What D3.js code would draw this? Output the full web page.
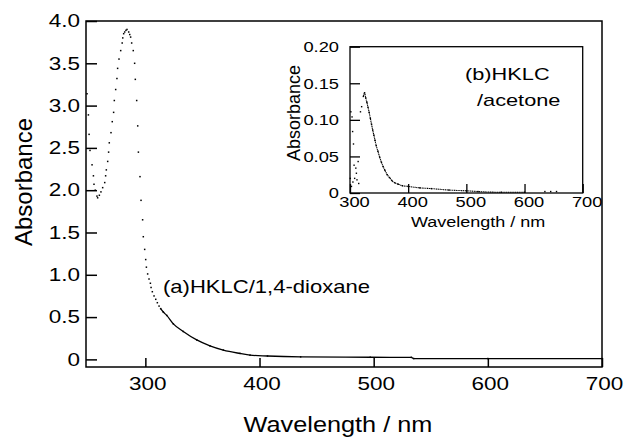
<!DOCTYPE html>
<html>
<head>
<meta charset="utf-8">
<script src="https://cdn.jsdelivr.net/npm/d3@7/dist/d3.min.js"></script>
<style>
body { margin: 0; background: #fff; }
text { font-family: "Liberation Sans", Arial, sans-serif; fill: #000; }
</style>
</head>
<body>
<svg id="chart" width="626" height="437"></svg>
<script>
// (a) HKLC / 1,4-dioxane, main panel
const wavelengthA = [248.9, 250.1, 250.7, 251.5, 253.3, 254.5, 255.0, 256.1, 257.6, 258.2,
    259.7, 261.1, 262.6, 264.4, 265.2, 265.8, 267.0, 267.8, 268.4, 269.9,
    271.0, 272.2, 272.8, 274.0, 275.1, 275.7, 276.9, 278.4, 279.7, 280.2,
    281.0, 281.9, 283.0, 283.9, 285.4, 286.3, 287.1, 288.0, 289.4, 290.6,
    291.2, 292.4, 293.3, 293.9, 295.3, 296.2, 297.6, 298.2, 299.4, 300.3,
    300.9, 302.0, 303.2, 304.4, 305.0, 306.1, 307.6, 309.1, 310.5, 312.0,
    313.4, 315.7, 318.7, 324.5, 333.2, 345.0, 356.6, 368.3, 382.9, 391.7,
    407.0, 436.0, 497.0, 533.0, 535.0, 600.0, 700.0]
const absorbanceA = [3.14, 2.89, 2.66, 2.47, 2.30, 2.17, 2.07, 2.00, 1.93, 1.91,
    1.94, 1.98, 2.03, 2.09, 2.17, 2.24, 2.34, 2.45, 2.56, 2.68,
    2.81, 2.92, 3.06, 3.19, 3.32, 3.44, 3.55, 3.65, 3.74, 3.80,
    3.85, 3.87, 3.89, 3.90, 3.87, 3.84, 3.81, 3.74, 3.65, 3.50,
    3.31, 3.06, 2.76, 2.45, 2.16, 1.88, 1.65, 1.45, 1.30, 1.18,
    1.09, 1.01, 0.95, 0.90, 0.85, 0.80, 0.75, 0.71, 0.67, 0.63,
    0.60, 0.56, 0.52, 0.42, 0.33, 0.23, 0.16, 0.11, 0.07, 0.05,
    0.04, 0.03, 0.025, 0.024, 0.01, 0.01, 0.01]

// (b) HKLC / acetone, inset
const wavelengthB = [300.5, 301.5, 302.5, 303.5, 304.5, 305.0, 306.0, 307.0, 308.0, 310.0,
    311.0, 312.0, 314.0, 315.0, 318.0, 320.0, 323.0, 325.0, 327.0, 329.0,
    331.0, 333.0, 335.0, 337.0, 339.0, 341.0, 343.0, 345.0, 348.0, 351.0,
    354.0, 357.0, 360.0, 364.0, 368.0, 372.0, 377.0, 383.0, 390.0, 400.0,
    420.0, 440.0, 470.0, 500.0, 520.0, 560.0, 600.0, 635.0, 645.0, 655.0]
const absorbanceB = [0.020, 0.111, 0.009, 0.104, 0.084, 0.015, 0.067, 0.038, 0.020, 0.034,
    0.027, 0.018, 0.043, 0.013, 0.111, 0.118, 0.132, 0.137, 0.130, 0.124,
    0.117, 0.110, 0.102, 0.094, 0.086, 0.079, 0.072, 0.065, 0.057, 0.049,
    0.042, 0.036, 0.031, 0.025, 0.021, 0.017, 0.014, 0.012, 0.010, 0.009,
    0.007, 0.006, 0.004, 0.003, 0.002, 0.001, 0.001, 0.002, 0.002, 0.002]

const yTicksA = [0, 0.5, 1.0, 1.5, 2.0, 2.5, 3.0, 3.5, 4.0]
const xTicks = [300, 400, 500, 600, 700]
const yTicksB = [0, 0.05, 0.10, 0.15, 0.20]

const svg = d3.select('#chart')

// text in the scan is a bit wider than the font, squeeze it out sideways
const stretch = (sel, sx) => {
    sel.each(function () {
        const t = d3.select(this)
        const x = +t.attr('x') || 0
        t.attr('transform', `translate(${x},0) scale(${sx},1) translate(${-x},0)`)
    })
}

const x = d3.scaleLinear().domain([248, 700]).range([86, 602])
const y = d3.scaleLinear().domain([-0.09, 4.0]).range([367, 21])

const main = svg.append('g')

main.append('g')
    .attr('transform', `translate(${x.range()[0]},0)`)
    .call(d3.axisLeft(y).tickValues(yTicksA).tickSize(-11).tickPadding(6)
        .tickFormat(d => d === 0 ? '0' : d.toFixed(1)))
    .call(g => g.select('.domain').remove())
    .call(g => g.selectAll('line').attr('stroke-width', 1.5))
    .call(g => g.selectAll('text').attr('font-size', 18).attr('font-family', null))
    .call(g => stretch(g.selectAll('text'), 1.25))

main.append('g')
    .attr('transform', `translate(0,${y.range()[0]})`)
    .call(d3.axisBottom(x).tickValues(xTicks).tickSize(-9).tickPadding(10)
        .tickFormat(d3.format('d')))
    .call(g => g.select('.domain').remove())
    .call(g => g.selectAll('line').attr('stroke-width', 1.5))
    .call(g => g.selectAll('text').attr('font-size', 18).attr('font-family', null).attr('x', 2))
    .call(g => stretch(g.selectAll('text'), 1.25))

main.append('rect')
    .attr('x', x.range()[0]).attr('y', y.range()[1])
    .attr('width', x.range()[1] - x.range()[0])
    .attr('height', y.range()[0] - y.range()[1])
    .attr('fill', 'none').attr('stroke', '#000').attr('stroke-width', 1.5)

const dataA = wavelengthA.map((w, i) => ({ w: w, a: absorbanceA[i] }))

main.selectAll('.dot-a').data(dataA).enter().append('rect')
    .attr('class', 'dot-a')
    .attr('x', d => x(d.w) - 0.75).attr('y', d => y(d.a) - 0.75)
    .attr('width', 1.5).attr('height', 1.5)
    .attr('fill', '#000')

// past ~313 nm the points sit so close they read as a line
main.append('path')
    .datum(dataA.filter(d => d.w >= 313))
    .attr('fill', 'none').attr('stroke', '#000').attr('stroke-width', 1.3)
    .attr('d', d3.line().x(d => x(d.w)).y(d => y(d.a)).curve(d3.curveMonotoneX))

main.append('text')
    .attr('x', 163).attr('y', 293)
    .attr('font-size', 17.5)
    .text('(a)HKLC/1,4-dioxane')
    .call(t => stretch(t, 1.26))

main.append('text')
    .attr('x', 338).attr('y', 432)
    .attr('text-anchor', 'middle')
    .attr('font-size', 22)
    .text('Wavelength / nm')
    .call(t => stretch(t, 1.15))

main.append('text')
    .attr('transform', 'translate(32,182) rotate(-90)')
    .attr('text-anchor', 'middle')
    .attr('font-size', 24)
    .text('Absorbance')

// inset
const xi = d3.scaleLinear().domain([300, 700]).range([350, 582.7])
const yi = d3.scaleLinear().domain([0, 0.2]).range([193, 46.7])

const inset = svg.append('g')

inset.append('g')
    .attr('transform', `translate(${xi.range()[0]},0)`)
    .call(d3.axisLeft(yi).tickValues(yTicksB).tickSize(-10).tickPadding(11)
        .tickFormat(d => d === 0 ? '0' : d.toFixed(2)))
    .call(g => g.select('.domain').remove())
    .call(g => g.selectAll('line').attr('stroke-width', 1.3))
    .call(g => g.selectAll('text').attr('font-size', 15).attr('font-family', null))
    .call(g => stretch(g.selectAll('text'), 1.22))

inset.append('g')
    .attr('transform', `translate(0,${yi.range()[0]})`)
    .call(d3.axisBottom(xi).tickValues(xTicks).tickSize(-9).tickPadding(3)
        .tickFormat(d3.format('d')))
    .call(g => g.select('.domain').remove())
    .call(g => g.selectAll('line').attr('stroke-width', 1.3))
    .call(g => g.selectAll('text').attr('font-size', 15).attr('font-family', null).attr('x', 4))
    .call(g => stretch(g.selectAll('text'), 1.22))

inset.append('rect')
    .attr('x', xi.range()[0]).attr('y', yi.range()[1])
    .attr('width', xi.range()[1] - xi.range()[0])
    .attr('height', yi.range()[0] - yi.range()[1])
    .attr('fill', 'none').attr('stroke', '#000').attr('stroke-width', 1.3)

const dataB = wavelengthB.map((w, i) => ({ w: w, a: absorbanceB[i] }))

inset.selectAll('.dot-b').data(dataB).enter().append('rect')
    .attr('class', 'dot-b')
    .attr('x', d => xi(d.w) - 0.7).attr('y', d => yi(d.a) - 0.7)
    .attr('width', 1.4).attr('height', 1.4)
    .attr('fill', '#000')

inset.append('path')
    .datum(dataB.filter(d => d.w >= 323 && d.w <= 600))
    .attr('fill', 'none').attr('stroke', '#000').attr('stroke-width', 1.1)
    .attr('stroke-dasharray', '1.2,0.6')
    .attr('d', d3.line().x(d => xi(d.w)).y(d => yi(d.a)).curve(d3.curveMonotoneX))

inset.append('text')
    .attr('x', 465).attr('y', 80)
    .attr('font-size', 17)
    .text('(b)HKLC')
    .call(t => stretch(t, 1.28))

inset.append('text')
    .attr('x', 477).attr('y', 106.5)
    .attr('font-size', 17)
    .text('/acetone')
    .call(t => stretch(t, 1.28))

inset.append('text')
    .attr('x', 478).attr('y', 227)
    .attr('text-anchor', 'middle')
    .attr('font-size', 15)
    .text('Wavelength / nm')
    .call(t => stretch(t, 1.2))

inset.append('text')
    .attr('transform', 'translate(300,113) rotate(-90)')
    .attr('text-anchor', 'middle')
    .attr('font-size', 18)
    .text('Absorbance')
</script>
</body>
</html>
